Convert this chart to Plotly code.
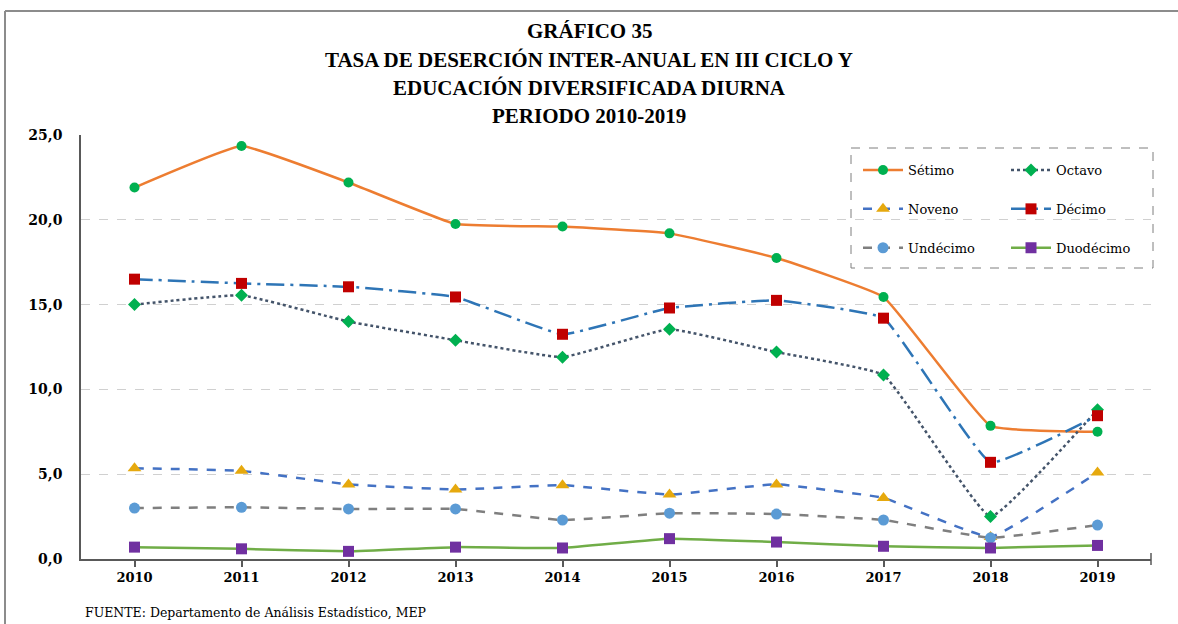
import plotly.graph_objects as go

# Tasa de deserción inter-anual por nivel, 2010-2019
anios = [2010, 2011, 2012, 2013, 2014, 2015, 2016, 2017, 2018, 2019]
setimo = [21.9, 24.35, 22.2, 19.75, 19.6, 19.2, 17.75, 15.45, 7.85, 7.5]
octavo = [15.0, 15.55, 14.0, 12.9, 11.9, 13.55, 12.2, 10.85, 2.5, 8.8]
noveno = [5.35, 5.2, 4.4, 4.1, 4.35, 3.8, 4.4, 3.6, 1.3, 5.1]
decimo = [16.5, 16.25, 16.05, 15.45, 13.25, 14.8, 15.25, 14.2, 5.7, 8.45]
undecimo = [3.0, 3.05, 2.95, 2.95, 2.3, 2.7, 2.65, 2.3, 1.25, 2.0]
duodecimo = [0.7, 0.6, 0.45, 0.7, 0.65, 1.2, 1.0, 0.75, 0.65, 0.8]

W, H = 1178, 624
L, R, T, B = 81, 27, 135, 65
PW, PH = W - L - R, H - T - B


def px(x):
    return (x - L) / PW


def py(y):
    return (H - B - y) / PH


SERIF = "DejaVu Serif"

series = [
    ("Sétimo", setimo, "#ED7D31", "solid", "circle", 10, "#00B050", "legend"),
    ("Octavo", octavo, "#44546A", "dot", "diamond", 10, "#00B050", "legend2"),
    ("Noveno", noveno, "#4472C4", "dash", "triangle-up", 12, "#E6A90E", "legend"),
    ("Décimo", decimo, "#2E75B6", "18px,6px,3px,6px", "square", 11, "#C00000", "legend2"),
    ("Undécimo", undecimo, "#7F7F7F", "dash", "circle", 11, "#5B9BD5", "legend"),
    ("Duodécimo", duodecimo, "#70AD47", "solid", "square", 11, "#7030A0", "legend2"),
]

fig = go.Figure()
for i, (name, vals, lc, dash, sym, size, mc, leg) in enumerate(series):
    fig.add_trace(go.Scatter(
        x=anios, y=vals, name=name, mode="lines+markers",
        line=dict(color=lc, width=2.5, dash=dash, shape="spline", smoothing=0.3),
        marker=dict(symbol=sym, size=size, color=mc, line=dict(width=0)),
        legend=leg, legendgroup=name,
    ))

legend_common = dict(
    font=dict(family=SERIF, size=13, color="#000000"),
    bgcolor="rgba(0,0,0,0)", borderwidth=0,
    xref="container", yref="container",
    xanchor="left", yanchor="top",
    tracegroupgap=19, traceorder="grouped",
    itemwidth=40,
)

title_lines = [
    ("GRÁFICO 35", 31),
    ("TASA DE DESERCIÓN INTER-ANUAL EN III CICLO Y", 60),
    ("EDUCACIÓN DIVERSIFICADA DIURNA", 88),
    ("PERIODO 2010-2019", 116),
]
annotations = [
    dict(text=f"<b>{t}</b>", x=px(589), y=py(yy), xref="paper", yref="paper",
         showarrow=False, xanchor="center", yanchor="middle",
         font=dict(family="Liberation Serif", size=21, color="#000000"))
    for t, yy in title_lines
]
annotations.append(dict(
    text="FUENTE: Departamento de Análisis Estadístico, MEP",
    x=px(83), y=py(612), xref="paper", yref="paper", showarrow=False,
    xanchor="left", yanchor="middle",
    font=dict(family=SERIF, size=12.5, color="#000000")))

shapes = [
    # marco exterior
    dict(type="line", xref="paper", yref="paper", x0=px(5), x1=px(W + 5), y0=py(11), y1=py(11),
         line=dict(color="#8C8C8C", width=2)),
    dict(type="line", xref="paper", yref="paper", x0=px(5), x1=px(5), y0=py(11), y1=py(H + 5),
         line=dict(color="#8C8C8C", width=2)),
    # recuadro de la leyenda
    dict(type="rect", xref="paper", yref="paper", x0=px(851), x1=px(1153), y0=py(148), y1=py(268),
         line=dict(color="#7F7F7F", width=1, dash="dash"), fillcolor="white", layer="below"),
    # marca final del eje X
    dict(type="line", xref="paper", yref="paper", x0=1, x1=1, y0=py(553), y1=py(565),
         line=dict(color="#595959", width=1.5)),
]

fig.update_layout(
    width=W, height=H,
    margin=dict(l=L, r=R, t=T, b=B, autoexpand=False),
    paper_bgcolor="white", plot_bgcolor="white",
    separators=",.",
    showlegend=True,
    legend=dict(x=858 / W, y=1 - 155 / H, **legend_common),
    legend2=dict(x=1006 / W, y=1 - 155 / H, **legend_common),
    annotations=annotations,
    shapes=shapes,
    xaxis=dict(
        range=[2009.5, 2019.5], tickvals=anios, ticktext=[str(a) for a in anios],
        showgrid=False, zeroline=False,
        showline=True, linecolor="#595959", linewidth=1.5,
        ticks="outside", ticklen=6, tickcolor="#595959", tickwidth=1.5,
        tickfont=dict(family=SERIF, size=13, color="#000000", weight="bold"),
        fixedrange=True,
    ),
    yaxis=dict(
        range=[0, 25], tickvals=[0, 5, 10, 15, 20, 25], tickformat=".1f",
        showgrid=True, gridcolor="#D0D0D0", griddash="dash", gridwidth=1,
        zeroline=False,
        showline=True, linecolor="#595959", linewidth=1.5,
        ticks="", ticklabelstandoff=14,
        tickfont=dict(family=SERIF, size=14, color="#000000", weight="bold"),
        fixedrange=True,
    ),
)

fig.write_html("out.html")
